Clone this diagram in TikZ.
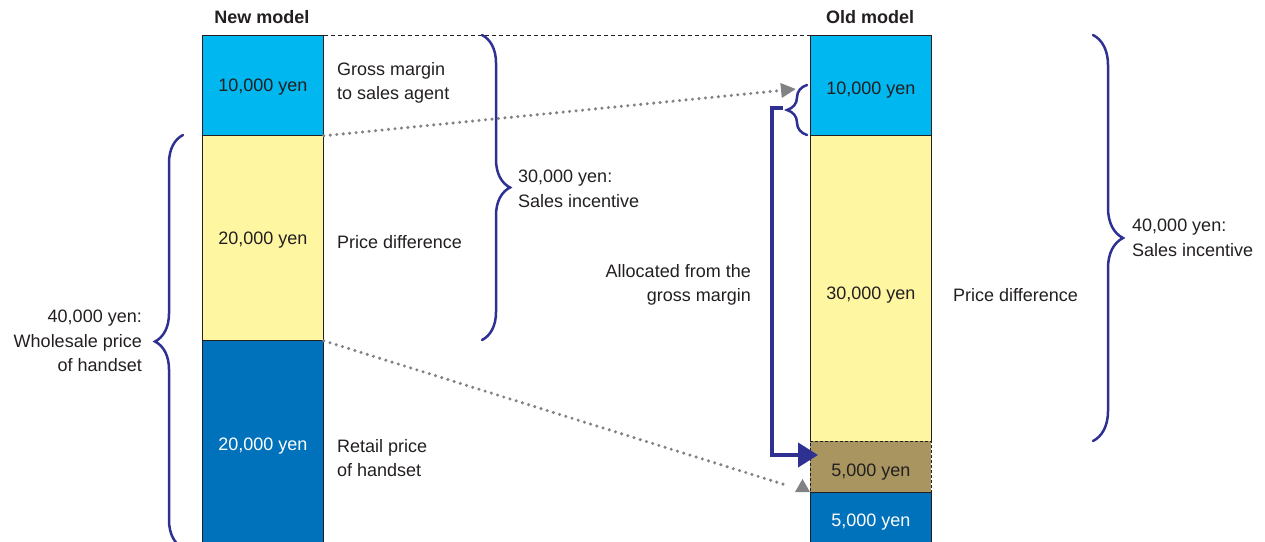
\documentclass[tikz,border=0pt]{standalone}
\usepackage{fontspec}
\setmainfont{Liberation Sans}
\usetikzlibrary{arrows.meta,decorations.pathreplacing}
\definecolor{cyanbox}{HTML}{00B7EF}
\definecolor{yellowbox}{HTML}{FFF6A2}
\definecolor{bluebox}{HTML}{0071BB}
\definecolor{brownbox}{HTML}{A8955F}
\definecolor{navy}{HTML}{2E3192}
\definecolor{dotgray}{HTML}{808285}
\definecolor{txt}{HTML}{231F20}
\begin{document}
\begin{tikzpicture}[x=1pt,y=-1pt,
  every node/.style={font=\fontsize{18}{24.5}\selectfont, text=txt, inner sep=0pt},
  box/.style={draw=txt, line width=0.8pt, minimum width=121pt, anchor=north west,
              inner sep=0pt, text height=13pt, text depth=0pt},
  lbl/.style={align=left, anchor=west},
  rlbl/.style={align=right, anchor=east},
  hdr/.style={font=\fontsize{18}{22}\selectfont\bfseries},
  brc/.style={draw=navy, line width=2.5pt, line cap=round, decorate, decoration={brace, amplitude=#1}},
  dots/.style={draw=dotgray, line width=3.4pt, line cap=round, dash pattern=on 0pt off 6.5pt},
]
\useasboundingbox (0,0) rectangle (1265,541);

% New model column
\node[box, fill=cyanbox, minimum height=100pt] (n1) at (202,35) {10,000 yen};
\node[box, fill=yellowbox, minimum height=205pt] (n2) at (202,135) {20,000 yen};
\node[box, fill=bluebox, minimum height=210pt, text=white] (n3) at (202,340) {\raisebox{1pt}{20,000 yen}};

% Old model column
\node[box, fill=cyanbox, minimum height=100pt] (o1) at (810,35) {\raisebox{-3pt}{10,000 yen}};
\node[box, fill=yellowbox, minimum height=306pt] (o2) at (810,135) {\raisebox{-5pt}{30,000 yen}};
\node[box, fill=brownbox, minimum height=51pt, dashed, dash pattern=on 3pt off 2pt] (o3) at (810,441) {\raisebox{-3pt}{5,000 yen}};
\node[box, fill=bluebox, minimum height=56pt, text=white] (o4) at (810,492) {5,000 yen};

% headers
\node[hdr] (hn) at (262,17) {New model};
\node[hdr] (ho) at (870,17) {Old model};

% top dashed line
\draw[txt, line width=0.8pt, dash pattern=on 4pt off 3pt] (n1.north east) -- (o1.north west);

% labels
\node[lbl] (l1) at (337,83) {Gross margin\\to sales agent};
\node[lbl] (l2) at (337,242) {Price difference};
\node[lbl] (l3) at (337,458) {Retail price\\of handset};
\node[lbl] (l4) at (518,189) {30,000 yen:\\Sales incentive};
\node[rlbl] (l5) at (751,285) {Allocated from the\\gross margin};
\node[lbl] (l6) at (953,295) {Price difference};
\node[lbl] (l7) at (1132,238) {40,000 yen:\\Sales incentive};
\node[rlbl] (l8) at (142,341) {40,000 yen:\\Wholesale price\\of handset};

% dotted arrows
\coordinate (t1) at (796,89);
\draw[dots, -{Triangle[length=15pt,width=14pt]}, dotgray] (n1.south east) -- (t1);
\coordinate (t2) at (789,486);
\draw[dots] (n2.south east) -- (t2);
\fill[dotgray] (795,492) -- (810,492) -- (802.5,479) -- cycle;

% braces
\draw[brc=28pt] (183,548) -- (183,135);
\draw[brc=28pt] (482,35) -- (482,340);
\draw[brc=30pt] (1093,35) -- (1093,441);
\draw[brc=20pt] (807,135) -- (807,85);

% allocated arrow
\coordinate (a0) at (783,108);
\coordinate (a1) at (772,108);
\coordinate (a2) at (772,455);
\coordinate (a3) at (818,455);
\draw[navy, line width=4pt, line join=miter, -{Triangle[length=20pt,width=24pt]}]
  (a0) -- (a1) -- (a2) -- (a3);
\end{tikzpicture}
\end{document}
